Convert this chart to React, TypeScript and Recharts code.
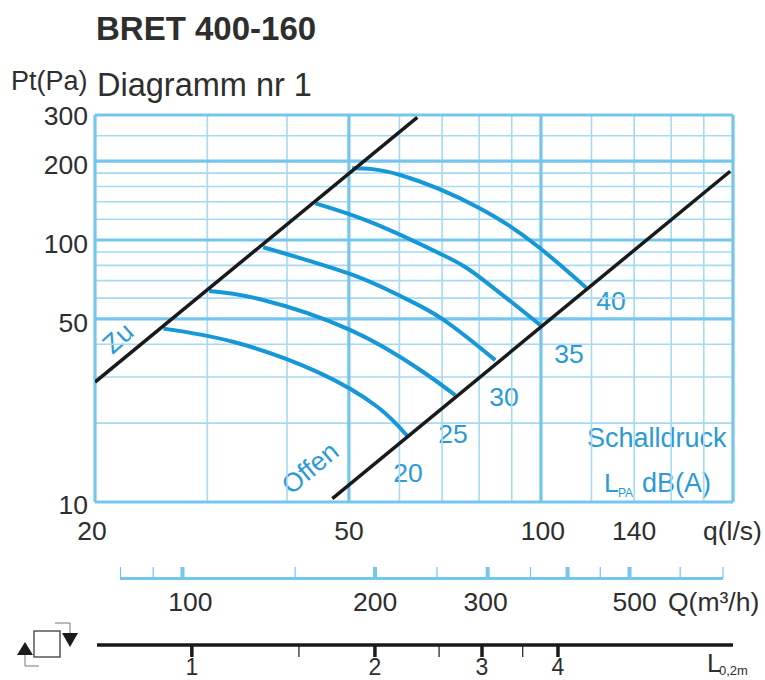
import React from "react";
import { ComposedChart, Line, XAxis, YAxis, ReferenceLine } from "recharts";

const FONT = "'Liberation Sans', Arial, sans-serif";
const GRID = "#a6d9f4";
const THICK = "#74c6ef";
const CURVE = "#1697d8";
const LABEL = "#2b9ad6";
const BLACK = "#1a1a1a";
const DARK = "#2e2e2e";

const qGridThin = [30, 40, 60, 70, 80, 90, 120, 140, 160, 180];
const qGridThick = [20, 50, 100, 200];
const pGridThin = [20, 30, 40, 60, 70, 80, 90, 120, 140, 160, 180, 250];
const pGridThick = [10, 50, 100, 200, 300];

const qTicks = [20, 50, 100, 140];
const pTicks = [10, 50, 100, 200, 300];
const flowTicks = [80, 90, 100, 150, 200, 250, 300, 350, 400, 450, 500, 600, 700];
const flowMajor = [100, 200, 300, 400, 500];
const flowLabelled = [100, 200, 300, 500];
const lengthTicks = [1, 1.5, 2, 2.55, 3, 3.5, 4];
const lengthMajor = [1, 2, 3, 4];

const zu = [{ q: 20, p: 28.7 }, { q: 64, p: 294 }];
const offen = [{ q: 47.1, p: 10.3 }, { q: 198, p: 183 }];

const toRows = (qs: number[], ps: number[]) => qs.map((q, i) => ({ q, p: ps[i] }));

const curve20 = toRows([25.6, 32.9, 44.6, 55.4, 61.7], [45.9, 40.9, 31.4, 23.1, 17.9]);
const curve25 = toRows([30.2, 36.3, 50.2, 64.7, 73.4], [63.9, 59.4, 45.4, 31.9, 25.6]);
const curve30 = toRows([36.7, 50.2, 60.2, 70.2, 84.8], [93.8, 74.2, 61.1, 49.8, 34.8]);
const curve35 = toRows([44.3, 54.6, 70.2, 80.3, 99.7], [138, 116, 87.6, 71.9, 47.4]);
const curve40 = toRows([50.6, 60.2, 80.3, 99.7, 117.7], [188, 177, 132, 93, 65.8]);
const curves = [curve20, curve25, curve30, curve35, curve40];

const flowRows = flowTicks.map((flow) => ({ flow, p: 10 }));
const lengthRows = lengthTicks.map((len) => ({ len, p: 10 }));

const txt = { fontFamily: FONT, fontSize: 26.5, fill: DARK };
const blue = { fontFamily: FONT, fontSize: 26.5, fill: LABEL };

const QTick = (props: any) => {
  const { x, payload } = props;
  const v = payload.value;
  const dx = v === 20 ? -3 : v === 100 ? 2 : 0;
  return <text x={x + dx} y={540} textAnchor="middle" {...txt}>{v}</text>;
};

const PTick = (props: any) => {
  const { y, payload } = props;
  const v = payload.value;
  const dy = v === 300 ? 10 : v === 10 ? 12 : 13;
  return <text x={88} y={y + dy} textAnchor="end" {...txt}>{v}</text>;
};

const FlowTick = (props: any) => {
  const { x, payload } = props;
  const v = payload.value;
  const major = flowMajor.includes(v);
  return (
    <g>
      <line x1={x} x2={x} y1={567} y2={578} stroke={THICK} strokeWidth={major ? 4 : 1.2} />
      {flowLabelled.includes(v) && (
        <text x={v === 100 ? x + 8 : v === 500 ? x + 5 : v === 300 ? x - 2 : x} y={611} textAnchor="middle" {...txt}>{v}</text>
      )}
    </g>
  );
};

const LengthTick = (props: any) => {
  const { x, payload } = props;
  const v = payload.value;
  const major = lengthMajor.includes(v);
  return (
    <g>
      <line x1={x} x2={x} y1={645} y2={657} stroke={BLACK} strokeWidth={major ? 3.5 : 1.2} />
      {major && <text x={x} y={675} textAnchor="middle" fontFamily={FONT} fontSize={23} fill={DARK}>{v}</text>}
    </g>
  );
};

export default function App() {
  return (
    <div style={{ position: "absolute", left: 0, top: 0, width: 765, height: 680, background: "#fff", overflow: "hidden" }}>
      <ComposedChart width={765} height={680} margin={{ top: 115, right: 32, bottom: 0, left: 0 }}>
        <XAxis xAxisId="a_q" type="number" dataKey="q" scale="log" domain={[20, 200]} ticks={qTicks} interval={0}
          allowDataOverflow height={76} axisLine={false} tickLine={false} tick={QTick} />
        <XAxis xAxisId="b_flow" type="number" dataKey="flow" scale="log" domain={[80, 700]} ticks={flowTicks} interval={0}
          allowDataOverflow height={67} padding={{ left: 25.5, right: 10 }}
          axisLine={false} tickLine={false} tick={FlowTick} />
        <XAxis xAxisId="c_len" type="number" dataKey="len" scale="log" domain={[0.693, 7.76]} ticks={lengthTicks} interval={0}
          allowDataOverflow height={35} axisLine={false} tickLine={false} tick={LengthTick} />
        <YAxis yAxisId="p" type="number" dataKey="p" scale="log" domain={[10, 300]} ticks={pTicks} interval={0}
          allowDataOverflow width={95} axisLine={false} tickLine={false} tick={PTick} />

        {qGridThin.map((v) => (
          <ReferenceLine key={"qt" + v} xAxisId="a_q" yAxisId="p" x={v} stroke={GRID} strokeWidth={1.6} />
        ))}
        {pGridThin.map((v) => (
          <ReferenceLine key={"pt" + v} xAxisId="a_q" yAxisId="p" y={v} stroke={GRID} strokeWidth={1.6} />
        ))}
        {qGridThick.map((v) => (
          <ReferenceLine key={"qT" + v} xAxisId="a_q" yAxisId="p" x={v} stroke={THICK} strokeWidth={3.2} />
        ))}
        {pGridThick.map((v) => (
          <ReferenceLine key={"pT" + v} xAxisId="a_q" yAxisId="p" y={v} stroke={THICK} strokeWidth={3.2} />
        ))}

        <Line xAxisId="b_flow" yAxisId="p" data={flowRows} dataKey="p" stroke="none"
          dot={false} activeDot={false} isAnimationActive={false} />
        <Line xAxisId="c_len" yAxisId="p" data={lengthRows} dataKey="p" stroke="none"
          dot={false} activeDot={false} isAnimationActive={false} />

        {curves.map((c, i) => (
          <Line key={i} xAxisId="a_q" yAxisId="p" data={c} dataKey="p" type="natural" stroke={CURVE} strokeWidth={4}
            dot={false} activeDot={false} isAnimationActive={false} />
        ))}
        <Line xAxisId="a_q" yAxisId="p" data={zu} dataKey="p" type="linear" stroke={BLACK} strokeWidth={3.5}
          dot={false} activeDot={false} isAnimationActive={false} />
        <Line xAxisId="a_q" yAxisId="p" data={offen} dataKey="p" type="linear" stroke={BLACK} strokeWidth={3.5}
          dot={false} activeDot={false} isAnimationActive={false} />

        <line x1={120} x2={723} y1={578.5} y2={578.5} stroke={THICK} strokeWidth={3} />
        <line x1={97} x2={733} y1={645} y2={645} stroke={BLACK} strokeWidth={3.5} />

        <text x={96} y={40} fontFamily={FONT} fontSize={33} fontWeight="bold" fill={DARK}>BRET 400-160</text>
        <text x={97} y={96} fontFamily={FONT} fontSize={32.5} fill={DARK}>Diagramm nr 1</text>
        <text x={11} y={90} fontFamily={FONT} fontSize={27} fill={DARK}>Pt(Pa)</text>

        <text x={703} y={540} {...txt}>q(l/s)</text>
        <text x={668} y={611} {...txt}>Q(m³/h)</text>
        <text x={707} y={672} fontFamily={FONT} fontSize={26} fill={DARK}>L</text>
        <text x={719} y={675} fontFamily={FONT} fontSize={13} fill={DARK}>0,2m</text>

        <text x={118} y={347} transform="rotate(-42 118 338)" textAnchor="middle" {...blue}>Zu</text>
        <text x={310} y={477} transform="rotate(-40 310 468)" textAnchor="middle" {...blue}>Offen</text>
        <text x={408} y={482} textAnchor="middle" {...blue}>20</text>
        <text x={453} y={443} textAnchor="middle" {...blue}>25</text>
        <text x={504} y={406} textAnchor="middle" {...blue}>30</text>
        <text x={569} y={363} textAnchor="middle" {...blue}>35</text>
        <text x={611} y={310} textAnchor="middle" {...blue}>40</text>
        <text x={587} y={447} fontFamily={FONT} fontSize={27} fill={LABEL}>Schalldruck</text>
        <text x={604} y={492} {...blue}>L</text>
        <text x={618} y={497} fontFamily={FONT} fontSize={12} fill={LABEL}>PA</text>
        <text x={642} y={492} fontFamily={FONT} fontSize={27} fill={LABEL}>dB(A)</text>

        <rect x={34} y={631} width={26} height={26} fill="#fff" stroke="#555" strokeWidth={1.5} />
        <path d="M62 633 L78 633 L70 647 Z" fill={BLACK} />
        <path d="M55 623 L70 623 L70 633" fill="none" stroke="#777" strokeWidth={1} />
        <path d="M17 655 L33 655 L25 642 Z" fill={BLACK} />
        <path d="M25 655 L25 666 L39 666" fill="none" stroke="#777" strokeWidth={1} />
      </ComposedChart>
    </div>
  );
}
